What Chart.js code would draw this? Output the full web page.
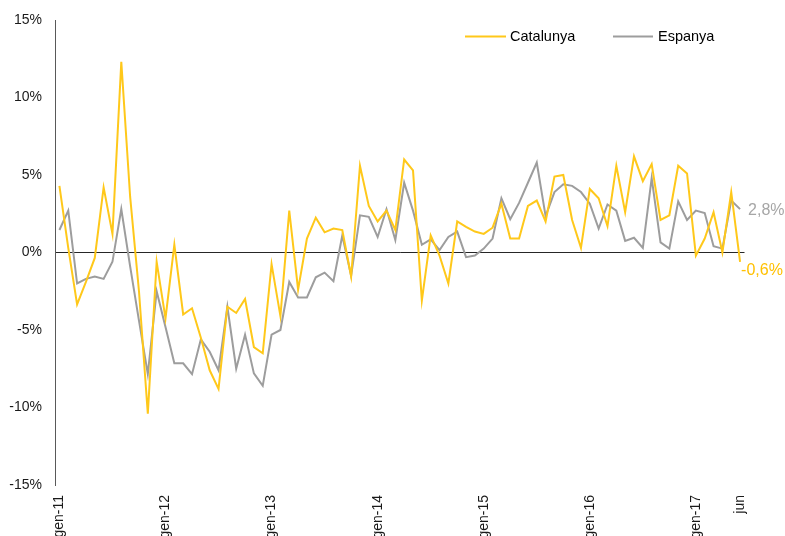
<!DOCTYPE html>
<html>
<head>
<meta charset="utf-8">
<script src="https://cdn.jsdelivr.net/npm/chart.js@4.4.1/dist/chart.umd.min.js"></script>
<style>
  html, body { margin: 0; padding: 0; background: #fff; overflow: hidden; }
  #wrap { width: 785px; height: 536px; position: relative; }
</style>
</head>
<body>
<div id="wrap"><canvas id="chart"></canvas></div>
<script>
// month abbreviations (Catalan) and years covered: gen-11 .. jun-17
const monthNames = ['gen', 'feb', 'mar', 'abr', 'mai', 'jun', 'jul', 'ago', 'set', 'oct', 'nov', 'des'];
const yearNames = ['11', '12', '13', '14', '15', '16', '17'];
const lastLabel = 'jun';

// year-on-year change, %
const catalunya = [
  4.3, 0.3, -3.35, -1.9, -0.35, 4.2, 1.2, 12.3, 3.6, -2.5, -10.4, -0.6,
  -4.25, 0.5, -4.0, -3.6, -5.5, -7.6, -8.8, -3.5, -3.9, -3.0, -6.1, -6.5,
  -0.75, -4.1, 2.7, -2.4, 0.9, 2.25, 1.3, 1.55, 1.45, -1.55, 5.6, 3.0,
  2.0, 2.7, 1.45, 6.0, 5.3, -3.1, 1.1, -0.2, -2.0, 2.0, 1.65, 1.35,
  1.2, 1.6, 3.15, 0.9, 0.9, 3.0, 3.35, 2.0, 4.9, 5.0, 2.1, 0.3,
  4.1, 3.5, 1.7, 5.6, 2.6, 6.2, 4.6, 5.7, 2.1, 2.4, 5.6, 5.1,
  -0.2, 0.9, 2.6, 0.0, 3.9, -0.6
];
const espanya = [
  1.45, 2.7, -2.0, -1.7, -1.55, -1.7, -0.6, 2.8, -0.9, -4.4, -7.85, -2.5,
  -4.8, -7.15, -7.15, -7.85, -5.6, -6.4, -7.6, -3.5, -7.5, -5.3, -7.8, -8.6,
  -5.3, -5.0, -1.9, -2.9, -2.9, -1.6, -1.3, -1.85, 1.1, -1.5, 2.4, 2.3,
  1.0, 2.8, 0.8, 4.5, 2.7, 0.5, 0.85, 0.15, 1.0, 1.35, -0.3, -0.2,
  0.25, 0.9, 3.5, 2.15, 3.2, 4.5, 5.8, 2.35, 3.9, 4.4, 4.3, 3.9,
  3.15, 1.55, 3.1, 2.7, 0.75, 0.95, 0.3, 4.8, 0.65, 0.25, 3.3, 2.1,
  2.7, 2.55, 0.4, 0.25, 3.35, 2.8
];

const endLabels = ['-0,6%', '2,8%'];
const seriesNames = ['Catalunya', 'Espanya'];
const colors = ['#ffc81a', '#9d9d9d'];
const endColors = ['#ffc000', '#a6a6a6'];

const categories = [];
yearNames.forEach(y => {
    monthNames.forEach(m => {
        if (categories.length < catalunya.length) categories.push(m + '-' + y);
    });
});

const FONT = 'Arial, "Liberation Sans", sans-serif';

const overlay = {
    id: 'overlay',
    afterDraw(chart) {
        const ctx = chart.ctx;
        ctx.save();
        // legend
        ctx.font = '14.5px ' + FONT;
        ctx.textBaseline = 'middle';
        ctx.textAlign = 'left';
        const ly = 36.5;
        const items = [[465, 506, 510], [613, 653, 658]];
        items.forEach((it, i) => {
            ctx.strokeStyle = colors[i];
            ctx.lineWidth = 2;
            ctx.beginPath();
            ctx.moveTo(it[0], ly);
            ctx.lineTo(it[1], ly);
            ctx.stroke();
            ctx.fillStyle = '#000';
            ctx.fillText(seriesNames[i], it[2], ly);
        });
        // end-of-line value labels
        ctx.font = '16px ' + FONT;
        const pc = chart.getDatasetMeta(0).data[catalunya.length - 1];
        const pe = chart.getDatasetMeta(1).data[espanya.length - 1];
        ctx.fillStyle = endColors[1];
        ctx.fillText(endLabels[1], pe.x + 8, pe.y + 1);
        ctx.fillStyle = endColors[0];
        ctx.fillText(endLabels[0], pc.x + 1, pc.y + 9);
        ctx.restore();
    }
};

const ctx = document.getElementById('chart').getContext('2d');
new Chart(ctx, {
    type: 'line',
    data: {
        labels: categories,
        datasets: [{
            label: seriesNames[0],
            data: catalunya,
            borderColor: colors[0],
            borderWidth: 2,
            pointRadius: 0,
            tension: 0,
            fill: false
        }, {
            label: seriesNames[1],
            data: espanya,
            borderColor: colors[1],
            borderWidth: 2,
            pointRadius: 0,
            tension: 0,
            fill: false
        }]
    },
    options: {
        responsive: true,
        maintainAspectRatio: false,
        animation: false,
        layout: { padding: { top: 20, right: 40.5, left: 0, bottom: 0 } },
        plugins: {
            legend: { display: false },
            tooltip: { enabled: false }
        },
        scales: {
            x: {
                offset: true,
                grid: { display: false, drawTicks: false },
                border: { display: false },
                ticks: {
                    autoSkip: false,
                    minRotation: 90,
                    maxRotation: 90,
                    padding: 10,
                    color: '#1a1a1a',
                    font: { family: FONT, size: 14 },
                    callback: function (value, index) {
                        if (index === categories.length - 1) return lastLabel;
                        const lbl = this.getLabelForValue(value);
                        return lbl.startsWith('gen') ? lbl : '';
                    }
                },
                afterFit: function (scale) {
                    scale.height = 51;
                    scale.paddingLeft = 0;
                    scale.paddingRight = 0;
                }
            },
            y: {
                min: -15,
                max: 15,
                ticks: {
                    stepSize: 5,
                    padding: 13,
                    color: '#1a1a1a',
                    font: { family: FONT, size: 14 },
                    callback: v => v + '%'
                },
                grid: {
                    drawTicks: false,
                    lineWidth: 1,
                    color: c => (c.tick && c.tick.value === 0) ? '#262626' : 'rgba(0,0,0,0)'
                },
                border: { display: true, color: '#595959', width: 1 },
                afterFit: function (scale) {
                    scale.width = 55;
                    scale.paddingTop = 0;
                    scale.paddingBottom = 0;
                }
            }
        }
    },
    plugins: [overlay]
});
</script>
</body>
</html>
